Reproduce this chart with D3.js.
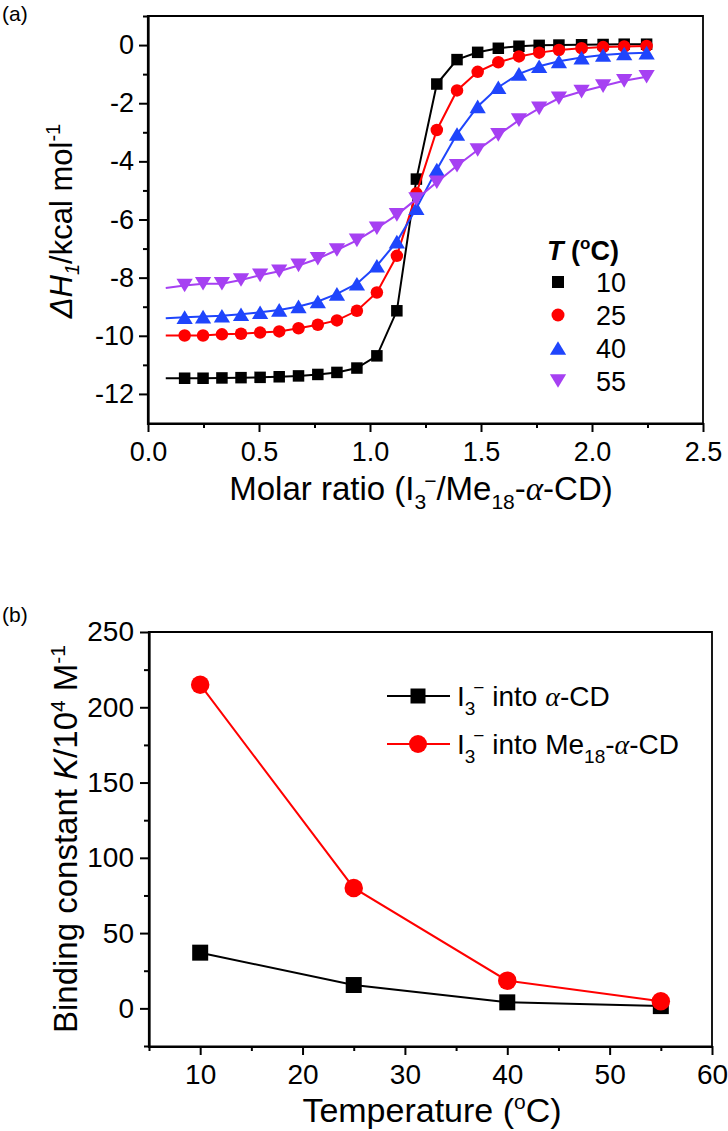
<!DOCTYPE html>
<html><head><meta charset="utf-8">
<script src="https://cdn.jsdelivr.net/npm/d3@7"></script>
<style>
body{margin:0;background:#fff}
svg{display:block}
text{font-family:"Liberation Sans",Arial,sans-serif;fill:#000}
</style>
</head><body>
<svg id="c" width="728" height="1131"></svg>
<script>
// ---------- Panel (a) data ----------
const molarRatio = [0.165,0.248,0.333,0.419,0.505,0.591,0.678,0.765,0.851,0.941,1.031,1.121,1.209,1.301,1.392,1.485,1.578,1.671,1.762,1.851,1.953,2.050,2.145,2.246];
const dH10 = [-11.46,-11.46,-11.45,-11.44,-11.43,-11.41,-11.38,-11.33,-11.26,-11.11,-10.69,-9.14,-4.61,-1.34,-0.50,-0.25,-0.11,-0.04,-0.01,0.00,0.01,0.02,0.03,0.03];
const dH25 = [-9.99,-9.99,-9.95,-9.93,-9.89,-9.85,-9.74,-9.62,-9.47,-9.14,-8.51,-7.25,-5.10,-2.92,-1.56,-0.92,-0.59,-0.39,-0.26,-0.17,-0.11,-0.07,-0.05,-0.03];
const dH40 = [-9.36,-9.34,-9.31,-9.26,-9.19,-9.11,-8.99,-8.82,-8.56,-8.21,-7.59,-6.76,-5.61,-4.28,-3.06,-2.11,-1.45,-0.99,-0.73,-0.56,-0.43,-0.34,-0.29,-0.26];
const dH55 = [-8.27,-8.21,-8.21,-8.08,-7.92,-7.78,-7.58,-7.35,-7.05,-6.72,-6.30,-5.84,-5.30,-4.72,-4.15,-3.61,-3.09,-2.58,-2.18,-1.83,-1.60,-1.41,-1.23,-1.09];
const fitStartRatio = 0.08;
const fitStartValues = [-11.46,-9.99,-9.40,-8.36];
const tempLabels = ["10","25","40","55"];
const xTicksA = [0,0.5,1.0,1.5,2.0,2.5];
const xMinorA = [0.25,0.75,1.25,1.75,2.25];
const yTicksA = [0,-2,-4,-6,-8,-10,-12];
const yMinorA = [1,-1,-3,-5,-7,-9,-11];

// ---------- Panel (b) data ----------
const temperature = [10,25,40,55];
const kAlphaCD = [37,15.5,4.0,1.5];
const kMe18 = [215,80,18.4,4.7];
const xTicksB = [10,20,30,40,50,60];
const xMinorB = [5,15,25,35,45,55];
const yTicksB = [0,50,100,150,200,250];
const yMinorB = [-25,25,75,125,175,225];

const colors = ["#000000","#ff0000","#1f45fc","#a640f2"];
const shapes = ["square","circle","up","down"];

const svg = d3.select("#c");

function symbolPath(shape, s){
  const h = s/2;
  if(shape==="square") return `M${-h},${-h}H${h}V${h}H${-h}Z`;
  if(shape==="circle") return `M${-h},0A${h},${h} 0 1,0 ${h},0A${h},${h} 0 1,0 ${-h},0Z`;
  if(shape==="up"){ const w=s*1.25/2, hh=s*1.05/2; return `M0,${-hh}L${w},${hh}L${-w},${hh}Z`; }
  if(shape==="down"){ const w=s*1.25/2, hh=s*1.05/2; return `M0,${hh}L${w},${-hh}L${-w},${-hh}Z`; }
}

// rich text helper: segments {t, shift(px, + down), size, italic, bold, serif, dx}
function rich(g, x, y, segs, base, attrs){
  const t = g.append("text").attr("x",x).attr("y",y).attr("font-size",base);
  if(attrs) for(const k in attrs) t.attr(k, attrs[k]);
  let cur = 0;
  segs.forEach(s=>{
    const sh = s.shift||0;
    const ts = t.append("tspan").text(s.t).attr("dy", sh-cur);
    cur = sh;
    if(s.size) ts.attr("font-size", s.size);
    if(s.italic) ts.attr("font-style","italic");
    if(s.bold) ts.attr("font-weight","bold");
    if(s.serif) ts.attr("font-family","'Liberation Serif','Times New Roman',serif");
    if(s.dx) ts.attr("dx", s.dx);
  });
  return t;
}

function axes(g, x, y, o){
  const [x0,x1] = x.range(), [y0,y1] = y.range();
  g.append("g").attr("transform",`translate(0,${y0})`)
    .call(d3.axisBottom(x).tickValues(o.xMinor).tickSize(5).tickSizeOuter(0).tickFormat(""))
    .call(s=>s.select(".domain").remove());
  g.append("g").attr("transform",`translate(${x0},0)`)
    .call(d3.axisLeft(y).tickValues(o.yMinor).tickSize(5).tickSizeOuter(0).tickFormat(""))
    .call(s=>s.select(".domain").remove());
  const gx = g.append("g").attr("transform",`translate(0,${y0})`)
    .call(d3.axisBottom(x).tickValues(o.xMajor).tickSize(9).tickSizeOuter(0).tickPadding(o.xPad).tickFormat(o.fx));
  const gy = g.append("g").attr("transform",`translate(${x0},0)`)
    .call(d3.axisLeft(y).tickValues(o.yMajor).tickSize(9).tickSizeOuter(0).tickPadding(o.yPad).tickFormat(o.fy));
  [gx,gy].forEach(a=>{
    a.selectAll("text").attr("font-size",o.fs).attr("font-family","'Liberation Sans',Arial,sans-serif").attr("fill","#000");
  });
  g.selectAll(".tick line").attr("stroke","#000").attr("stroke-width",2);
  g.selectAll(".domain").attr("stroke","#000").attr("stroke-width",2.2);
  g.append("path").attr("d",`M${x0},${y1}H${x1}V${y0}`).attr("fill","none").attr("stroke","#000").attr("stroke-width",1.8);
  g.append("path").attr("d",`M${x0},${y1-0.9}V${y0+1}H${x1+0.9}`).attr("fill","none").attr("stroke","#000").attr("stroke-width",2.2);
}

// ================= Panel (a) =================
const gA = svg.append("g");
const xA = d3.scaleLinear().domain([0,2.5]).range([148,703]);
const yA = d3.scaleLinear().domain([-13,1]).range([423,16]);

axes(gA, xA, yA, {xMajor:xTicksA, xMinor:xMinorA, yMajor:yTicksA, yMinor:yMinorA,
  fx:d3.format(".1f"), fy:d=>String(d), fs:27, xPad:10, yPad:5});

const seriesA = [dH10, dH25, dH40, dH55];
const lineA = d3.line().x(d=>xA(d[0])).y(d=>yA(d[1]));
seriesA.forEach((vals,i)=>{
  const pts = [[fitStartRatio, fitStartValues[i]]].concat(molarRatio.map((m,j)=>[m, vals[j]]));
  gA.append("path").attr("d", lineA(pts)).attr("fill","none").attr("stroke",colors[i]).attr("stroke-width",2);
  gA.append("g").selectAll("path").data(molarRatio.map((m,j)=>[m, vals[j]])).join("path")
    .attr("transform",d=>`translate(${xA(d[0])},${yA(d[1])})`)
    .attr("d", symbolPath(shapes[i], shapes[i]==="circle"?12.5:(shapes[i]==="square"?11.5:13)))
    .attr("fill",colors[i]);
});

// legend (a)
rich(gA, 547, 260, [{t:"T",italic:true,bold:true},{t:" (",bold:true},{t:"o",bold:true,size:17,shift:-11},{t:"C)",bold:true,shift:0}], 27);
tempLabels.forEach((lab,i)=>{
  const ly = 282 + i*33;
  gA.append("path").attr("transform",`translate(558,${ly})`)
    .attr("d", symbolPath(shapes[i], shapes[i]==="circle"?13:(shapes[i]==="square"?12:13)))
    .attr("fill",colors[i]);
  gA.append("text").attr("x",596).attr("y",ly+9.5).attr("font-size",27).text(lab);
});

// axis titles (a)
rich(gA, 421, 500, [{t:"Molar ratio (I"},{t:"3",size:21,shift:9},{t:"−",size:21,shift:-12,dx:-2},{t:"/Me",shift:0},{t:"18",size:21,shift:9},{t:"-",shift:0},{t:"α",italic:true,serif:true},{t:"-CD)"}], 33, {"text-anchor":"middle"});
rich(gA, 0, 0, [{t:"Δ",italic:true},{t:"H",italic:true},{t:"1",italic:true,size:20,shift:7},{t:"/kcal mol",shift:0},{t:"-1",size:20,shift:-12}], 31,
  {"text-anchor":"middle","transform":"translate(72,221) rotate(-90)"});

svg.append("text").attr("x",2).attr("y",21).attr("font-size",21).text("(a)");

// ================= Panel (b) =================
const gB = svg.append("g");
const xB = d3.scaleLinear().domain([5,60]).range([149,712]);
const yB = d3.scaleLinear().domain([-25,250]).range([1046,632]);

axes(gB, xB, yB, {xMajor:xTicksB, xMinor:xMinorB, yMajor:yTicksB, yMinor:yMinorB,
  fx:d=>String(d), fy:d=>String(d), fs:28, xPad:9, yPad:6});

const lineB = d3.line().x(d=>xB(d[0])).y(d=>yB(d[1]));
[[kAlphaCD,0,"square"],[kMe18,1,"circle"]].forEach(([vals,ci,sh])=>{
  const pts = temperature.map((t,j)=>[t, vals[j]]);
  gB.append("path").attr("d", lineB(pts)).attr("fill","none").attr("stroke",colors[ci]).attr("stroke-width",2);
  gB.append("g").selectAll("path").data(pts).join("path")
    .attr("transform",d=>`translate(${xB(d[0])},${yB(d[1])})`)
    .attr("d", symbolPath(sh, sh==="circle"?18.5:16)).attr("fill",colors[ci]);
});

// legend (b)
const legB = [
  {ci:0, sh:"square", segs:[{t:"I"},{t:"3",size:19,shift:9},{t:"−",size:19,shift:-12,dx:-2},{t:" into ",shift:0},{t:"α",italic:true,serif:true},{t:"-CD"}]},
  {ci:1, sh:"circle", segs:[{t:"I"},{t:"3",size:19,shift:9},{t:"−",size:19,shift:-12,dx:-2},{t:" into Me",shift:0},{t:"18",size:19,shift:9},{t:"-",shift:0},{t:"α",italic:true,serif:true},{t:"-CD"}]}
];
legB.forEach((L,i)=>{
  const ly = 696 + i*48;
  gB.append("line").attr("x1",387).attr("x2",450).attr("y1",ly).attr("y2",ly).attr("stroke",colors[L.ci]).attr("stroke-width",2);
  gB.append("path").attr("transform",`translate(418,${ly})`).attr("d",symbolPath(L.sh, L.sh==="circle"?18:15)).attr("fill",colors[L.ci]);
  rich(gB, 457, ly+10, L.segs, 28);
});

// axis titles (b)
rich(gB, 432, 1122, [{t:"Temperature ("},{t:"o",size:21,shift:-13},{t:"C)",shift:0}], 34, {"text-anchor":"middle"});
rich(gB, 0, 0, [{t:"Binding constant "},{t:"K",italic:true},{t:"/10"},{t:"4",size:21,shift:-12},{t:" M",shift:0},{t:"-1",size:21,shift:-12}], 33,
  {"text-anchor":"middle","transform":"translate(77,839) rotate(-90)"});

svg.append("text").attr("x",2).attr("y",622).attr("font-size",21).text("(b)");
</script>
</body></html>
